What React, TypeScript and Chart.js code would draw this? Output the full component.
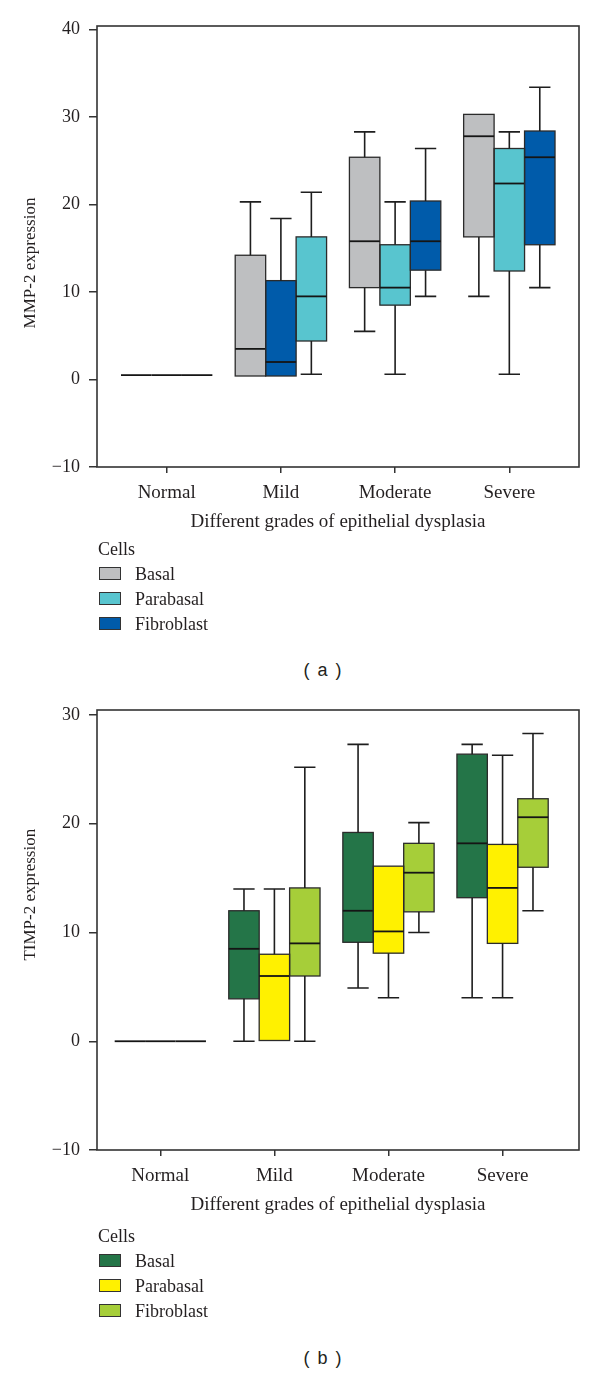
import React, { useEffect, useRef } from "react";
import { Chart, registerables } from "chart.js";

Chart.register(...registerables);

// ---------- data ----------
const categories = ["Normal", "Mild", "Moderate", "Severe"];
const cellTypes = ["Basal", "Parabasal", "Fibroblast"];

const mmpTicks = [-10, 0, 10, 20, 30, 40];
const timpTicks = [-10, 0, 10, 20, 30];

// each row: [min, q1, median, q3, max] for Normal, Mild, Moderate, Severe
const mmpBasal = [
  [0.5, 0.5, 0.5, 0.5, 0.5],
  [0.4, 0.4, 3.5, 14.2, 20.3],
  [5.5, 10.5, 15.8, 25.4, 28.3],
  [9.5, 16.3, 27.8, 30.3, 30.3],
];
const mmpParabasal = [
  [0.5, 0.5, 0.5, 0.5, 0.5],
  [0.4, 0.4, 2.0, 11.3, 18.4],
  [0.6, 8.5, 10.5, 15.4, 20.3],
  [0.6, 12.4, 22.4, 26.4, 28.3],
];
const mmpFibroblast = [
  [0.5, 0.5, 0.5, 0.5, 0.5],
  [0.6, 4.4, 9.5, 16.3, 21.4],
  [9.5, 12.5, 15.8, 20.4, 26.4],
  [10.5, 15.4, 25.4, 28.4, 33.4],
];

const timpBasal = [
  [0, 0, 0, 0, 0],
  [0, 3.9, 8.5, 12.0, 14.0],
  [4.9, 9.1, 12.0, 19.2, 27.3],
  [4.0, 13.2, 18.2, 26.4, 27.3],
];
const timpParabasal = [
  [0, 0, 0, 0, 0],
  [0, 0, 6.0, 8.0, 14.0],
  [4.0, 8.1, 10.1, 16.1, 16.1],
  [4.0, 9.0, 14.1, 18.1, 26.3],
];
const timpFibroblast = [
  [0, 0, 0, 0, 0],
  [0, 6.0, 9.0, 14.1, 25.2],
  [10.0, 11.9, 15.5, 18.2, 20.1],
  [12.0, 16.0, 20.6, 22.3, 28.3],
];

// ---------- styles ----------
const GRAY = "#BEBFC1";
const CYAN = "#58C5CF";
const DBLUE = "#005BAA";
const DGREEN = "#247548";
const YELLOW = "#FFF100";
const LIME = "#A6CE39";
const INK = "#231F20";
const SERIF = '"Liberation Serif", "Times New Roman", serif';

const mmpLegendColors = [GRAY, CYAN, DBLUE];
const timpLegendColors = [DGREEN, YELLOW, LIME];
// in the reference, the Mild group shows the 2nd/3rd box colours swapped
const mmpFills = [
  [GRAY, GRAY, GRAY, GRAY],
  [CYAN, DBLUE, CYAN, CYAN],
  [DBLUE, CYAN, DBLUE, DBLUE],
];
const timpFills = [
  [DGREEN, DGREEN, DGREEN, DGREEN],
  [YELLOW, YELLOW, YELLOW, YELLOW],
  [LIME, LIME, LIME, LIME],
];

// ---------- plugins ----------
const boxPlugin = {
  id: "boxWhiskers",
  afterDatasetsDraw(chart: any) {
    const ctx = chart.ctx;
    const ys = chart.scales.y;
    chart.data.datasets.forEach((ds: any, i: number) => {
      const meta = chart.getDatasetMeta(i);
      meta.data.forEach((el: any, j: number) => {
        const [mn, q1, med, q3, mx] = ds.stats[j];
        const x = el.x;
        const w = el.width;
        const half = w / 2;
        const cap = (w * 0.7) / 2;
        ctx.save();
        // box outline
        if (q3 > q1) {
          const top = Math.min(el.y, el.base);
          const bot = Math.max(el.y, el.base);
          ctx.strokeStyle = "#2b2b2b";
          ctx.lineWidth = 1.3;
          ctx.strokeRect(x - half, top, w, bot - top);
        }
        // whiskers
        ctx.strokeStyle = "#1e1e1e";
        ctx.lineWidth = 1.6;
        ctx.beginPath();
        if (mx > q3) {
          const a = ys.getPixelForValue(q3);
          const b = ys.getPixelForValue(mx);
          ctx.moveTo(x, a);
          ctx.lineTo(x, b);
          ctx.moveTo(x - cap, b);
          ctx.lineTo(x + cap, b);
        }
        if (mn < q1) {
          const a = ys.getPixelForValue(q1);
          const b = ys.getPixelForValue(mn);
          ctx.moveTo(x, a);
          ctx.lineTo(x, b);
          ctx.moveTo(x - cap, b);
          ctx.lineTo(x + cap, b);
        }
        ctx.stroke();
        // median
        const m = ys.getPixelForValue(med);
        ctx.lineWidth = 1.8;
        ctx.strokeStyle = "#151515";
        ctx.beginPath();
        ctx.moveTo(x - half, m);
        ctx.lineTo(x + half, m);
        ctx.stroke();
        ctx.restore();
      });
    });
  },
};

const framePlugin = {
  id: "frame",
  afterDatasetsDraw(chart: any) {
    const { ctx, chartArea } = chart;
    ctx.save();
    ctx.strokeStyle = "#333";
    ctx.lineWidth = 1.6;
    ctx.strokeRect(chartArea.left, chartArea.top, chartArea.right - chartArea.left, chartArea.bottom - chartArea.top);
    ctx.restore();
  },
};

const yTitlePlugin = {
  id: "yTitle",
  afterDraw(chart: any, _args: any, opts: any) {
    const { ctx, chartArea } = chart;
    const cy = (chartArea.top + chartArea.bottom) / 2 + (opts.shift || 0);
    ctx.save();
    ctx.translate(opts.x, cy);
    ctx.rotate(-Math.PI / 2);
    ctx.font = `17px ${SERIF}`;
    ctx.fillStyle = INK;
    ctx.textAlign = "center";
    ctx.textBaseline = "alphabetic";
    ctx.fillText(opts.text, 0, 0);
    ctx.restore();
  },
};

// ---------- components ----------
interface PanelProps {
  top: number;
  height: number;
  series: number[][][];
  fills: string[][];
  yMin: number;
  yMax: number;
  yTicks: number[];
  xMin: number;
  xMax: number;
  yTitle: string;
  yTitleShift: number;
}

function BoxPanel(p: PanelProps) {
  const ref = useRef<HTMLCanvasElement>(null);
  useEffect(() => {
    const chart = new Chart(ref.current as HTMLCanvasElement, {
      type: "bar",
      data: {
        datasets: p.series.map((stats, si) => ({
          label: cellTypes[si],
          data: stats.map((s, ci) => ({ x: ci + 1, y: [s[1], s[3]] })),
          stats,
          backgroundColor: p.fills[si],
          borderWidth: 0,
          borderSkipped: false,
          categoryPercentage: 0.8,
          barPercentage: 1,
        })) as any,
      },
      options: {
        responsive: false,
        animation: false,
        layout: { padding: { top: 26, left: 0, right: 21, bottom: 0 } },
        plugins: {
          legend: { display: false },
          tooltip: { enabled: false },
          yTitle: { text: p.yTitle, shift: p.yTitleShift, x: 35 },
        } as any,
        scales: {
          x: {
            type: "linear",
            min: p.xMin,
            max: p.xMax,
            offset: false,
            afterBuildTicks: (scale: any) => {
              scale.ticks = categories.map((_, i) => ({ value: i + 1 }));
            },
            afterFit: (scale: any) => {
              scale.height = 80;
            },
            ticks: {
              autoSkip: false,
              maxRotation: 0,
              padding: 8.3,
              color: INK,
              font: { family: SERIF, size: 19 },
              callback: (_v: any, idx: number) => categories[idx],
            },
            grid: { offset: false, drawOnChartArea: false, drawTicks: true, tickLength: 6, color: "#333", lineWidth: 1.5 },
            border: { display: false },
            title: {
              display: true,
              text: "Different grades of epithelial dysplasia",
              color: INK,
              font: { family: SERIF, size: 19 },
              padding: { top: 0, bottom: 13.6 },
            },
          },
          y: {
            type: "linear",
            min: p.yMin,
            max: p.yMax,
            afterBuildTicks: (scale: any) => {
              scale.ticks = p.yTicks.map((v) => ({ value: v }));
            },
            afterFit: (scale: any) => {
              scale.width = 97;
            },
            ticks: {
              padding: 9,
              color: INK,
              font: { family: SERIF, size: 18 },
              callback: (v: any) => (Number(v) < 0 ? "\u2212" + Math.abs(Number(v)) : String(v)),
            },
            grid: { drawOnChartArea: false, drawTicks: true, tickLength: 8, color: "#333", lineWidth: 1.5 },
            border: { display: false },
          },
        },
      } as any,
      plugins: [boxPlugin, framePlugin, yTitlePlugin],
    });
    return () => chart.destroy();
  }, []);
  return (
    <canvas
      ref={ref}
      width={600}
      height={p.height}
      style={{ position: "absolute", left: 0, top: p.top, width: 600, height: p.height, display: "block" }}
    />
  );
}

function Legend({ center, colors }: { center: number; colors: string[] }) {
  const text: React.CSSProperties = {
    position: "absolute",
    font: `18px ${SERIF}`,
    lineHeight: "20px",
    color: INK,
    whiteSpace: "nowrap",
  };
  return (
    <>
      <div style={{ ...text, left: 98, top: center - 10 }}>Cells</div>
      {cellTypes.map((name, i) => {
        const cy = center + 25 + 25 * i;
        return (
          <React.Fragment key={name}>
            <div
              style={{
                position: "absolute",
                left: 99,
                top: cy - 6.5,
                width: 21.5,
                height: 13,
                boxSizing: "border-box",
                border: "1.5px solid #333",
                background: colors[i],
              }}
            />
            <div style={{ ...text, left: 135, top: cy - 10 }}>{name}</div>
          </React.Fragment>
        );
      })}
    </>
  );
}

function Caption({ center, label }: { center: number; label: string }) {
  return (
    <div
      style={{
        position: "absolute",
        left: 272.5,
        width: 100,
        top: center - 11,
        lineHeight: "22px",
        textAlign: "center",
        font: '18px "Liberation Sans", Arial, sans-serif',
        wordSpacing: "3px",
        color: INK,
        whiteSpace: "pre",
      }}
    >
      {label}
    </div>
  );
}

export default function App() {
  return (
    <div style={{ position: "absolute", left: 0, top: 0, width: 600, height: 1374, background: "#fff", overflow: "hidden" }}>
      <BoxPanel
        top={0}
        height={547}
        series={[mmpBasal, mmpParabasal, mmpFibroblast]}
        fills={mmpFills}
        yMin={-10}
        yMax={40.4}
        yTicks={mmpTicks}
        xMin={0.39}
        xMax={4.61}
        yTitle="MMP-2 expression"
        yTitleShift={16.5}
      />
      <Legend center={548.5} colors={mmpLegendColors} />
      <Caption center={671} label="( a )" />
      <BoxPanel
        top={684}
        height={546}
        series={[timpBasal, timpParabasal, timpFibroblast]}
        fills={timpFills}
        yMin={-10}
        yMax={30.46}
        yTicks={timpTicks}
        xMin={0.445}
        xMax={4.67}
        yTitle="TIMP-2 expression"
        yTitleShift={-35.3}
      />
      <Legend center={1235.7} colors={timpLegendColors} />
      <Caption center={1359} label="( b )" />
    </div>
  );
}
